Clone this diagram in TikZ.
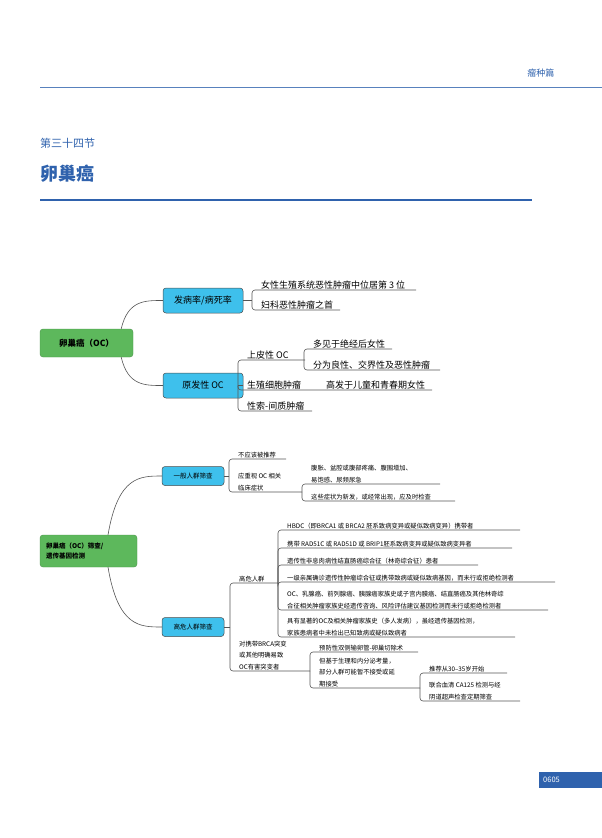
\documentclass[tikz,border=0pt]{standalone}
\usepackage{fontspec}
\setmainfont{Noto Sans CJK SC}
\definecolor{hblue}{HTML}{2F62AD}
\definecolor{ngreen}{HTML}{5DB85C}
\definecolor{nblue}{HTML}{3EC0EC}
\definecolor{lgray}{HTML}{555555}
\begin{document}
\begin{tikzpicture}[x=1pt,y=-1pt,
  green/.style={fill=ngreen,draw=ngreen!80!black,rounded corners=3pt,line width=0.4pt,font=\bfseries},
  blue/.style={fill=nblue,draw=black!70,rounded corners=3pt,line width=0.5pt},
  lk/.style={draw=lgray,line width=0.6pt},
  br/.style={draw=lgray,line width=0.6pt,rounded corners=3pt},
  t1/.style={anchor=south west,inner sep=1pt,font=\fontsize{9}{11}\selectfont},
  t2/.style={anchor=south west,inner sep=1pt,align=left,font=\fontsize{6.3}{11.5}\selectfont}]
\useasboundingbox (0,0) rectangle (602,838);
% header
\node[anchor=base east,text=hblue,font=\fontsize{9}{10}\selectfont] (hdr) at (558,76) {瘤种篇};
\draw[hblue!80,line width=1pt] (40,87) -- (602,87);
\node[anchor=base west,text=hblue,inner sep=0,font=\fontsize{11}{12}\selectfont] (sec) at (40,147) {第三十四节};
\node[anchor=base west,text=hblue,inner sep=0,font=\bfseries\fontsize{18}{20}\selectfont] (ttl) at (40,180) {卵巢癌};
\draw[hblue,line width=2.5pt] (40,200) -- (532,200);
\newcommand\leaf[6]{\draw[br] (#1,#2) |- (#4,#3); \node[#6] at (#1+8,#3) {#5};}
% map 1
\node[green,minimum width=93pt,minimum height=28pt,font=\bfseries\fontsize{8.5}{10}\selectfont] (g1) at (86.5,343) {卵巢癌（OC）};
\node[blue,minimum width=80pt,minimum height=25pt,font=\fontsize{9}{10}\selectfont] (b1) at (203,300.5) {发病率/病死率};
\node[blue,minimum width=80pt,minimum height=25pt,font=\fontsize{9}{10}\selectfont] (b2) at (203,385.5) {原发性 OC};
\draw[lk] (g1.north east)+(-12,0) .. controls (128,300) and (145,300.5) .. (b1.west);
\draw[lk] (g1.south east)+(-12,0) .. controls (128,386) and (145,385.5) .. (b2.west);
\draw[lk] (b1.east) -- (252,300.5);
\draw[lk] (b2.east) -- (238,385.5);
\leaf{252}{300.5}{290}{416}{女性生殖系统恶性肿瘤中位居第 3 位}{t1}
\leaf{252}{300.5}{310}{340}{妇科恶性肿瘤之首}{t1}
\leaf{238}{385.5}{360}{305}{上皮性 OC}{t1}
\leaf{238}{385.5}{390}{432}{生殖细胞肿瘤}{t1}
\node[t1] (gx) at (325,390) {高发于儿童和青春期女性};
\leaf{238}{385.5}{411}{312}{性索-间质肿瘤}{t1}
\leaf{304}{360}{349}{392}{多见于绝经后女性}{t1}
\leaf{304}{360}{370}{440}{分为良性、交界性及恶性肿瘤}{t1}
% map 2
\node[green,minimum width=97pt,minimum height=32pt,align=left,text width=85pt,font=\bfseries\fontsize{6.5}{10}\selectfont] (g2) at (88.5,551) {卵巢癌（OC）筛查/\\遗传基因检测};
\node[blue,minimum width=62pt,minimum height=19pt,font=\fontsize{6.5}{8}\selectfont] (b3) at (193,476) {一般人群筛查};
\node[blue,minimum width=62pt,minimum height=19pt,font=\fontsize{6.5}{8}\selectfont] (b4) at (193,627) {高危人群筛查};
\draw[lk] (108,535) .. controls (118,476) and (140,476) .. (b3.west);
\draw[lk] (108,567) .. controls (118,627) and (140,627) .. (b4.west);
\draw[lk] (b3.east) -- (229,476);
\draw[lk] (b4.east) -- (230,627);
\leaf{229}{476}{459}{286}{不应该被推荐}{t2}
\leaf{229}{476}{492}{302}{应重视 OC 相关\\临床症状}{t2}
\leaf{302}{492}{484}{440}{腹胀、盆腔或腹部疼痛、腹围增加、\\易饱感、尿频尿急}{t2}
\leaf{302}{492}{501}{455}{这些症状为新发，或经常出现，应及时检查}{t2}
\leaf{230}{627}{583}{278}{高危人群}{t2}
\leaf{230}{627}{671}{310}{对携带BRCA突变\\或其他明确易致\\OC有害突变者}{t2}
\leaf{278}{583}{530}{520}{HBDC（即BRCA1 或 BRCA2 胚系致病变异或疑似致病变异）携带者}{t2}
\leaf{278}{583}{548}{512}{携带 RAD51C 或 RAD51D 或 BRIP1胚系致病变异或疑似致病变异者}{t2}
\leaf{278}{583}{565}{478}{遗传性非息肉病性结直肠癌综合征（林奇综合征）患者}{t2}
\leaf{278}{583}{582}{555}{一级亲属确诊遗传性肿瘤综合征或携带致病或疑似致病基因，而未行或拒绝检测者}{t2}
\leaf{278}{583}{610}{548}{OC、乳腺癌、前列腺癌、胰腺癌家族史或子宫内膜癌、结直肠癌及其他林奇综\\合征相关肿瘤家族史经遗传咨询、风险评估建议基因检测而未行或拒绝检测者}{t2}
\leaf{278}{583}{637}{515}{具有显著的OC及相关肿瘤家族史（多人发病），虽经遗传基因检测，\\家族患病者中未检出已知致病或疑似致病者}{t2}
\leaf{310}{671}{652}{418}{预防性双侧输卵管-卵巢切除术}{t2}
\leaf{310}{671}{688}{420}{但基于生理和内分泌考量，\\部分人群可能暂不接受或延\\期接受}{t2}
\leaf{420}{688}{673}{507}{推荐从30–35岁开始}{t2}
\leaf{420}{688}{701}{520}{联合血清 CA125 检测与经\\阴道超声检查定期筛查}{t2}
% page number
\node[fill=hblue,text=white,anchor=north west,minimum width=63pt,minimum height=16pt,text width=55pt,font=\fontsize{7.5}{8}\selectfont] (pg) at (539,772) {0605};
\end{tikzpicture}
\end{document}
